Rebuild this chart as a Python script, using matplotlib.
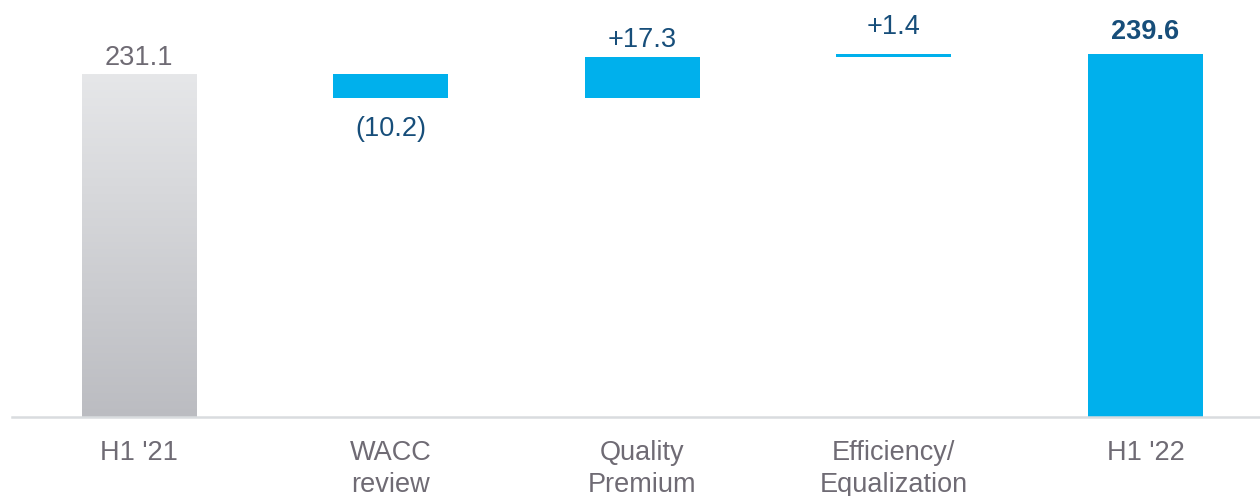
import numpy as np
import matplotlib
matplotlib.use("Agg")
import matplotlib.pyplot as plt
from matplotlib.colors import LinearSegmentedColormap

plt.rcParams['font.family'] = ['Liberation Sans', 'DejaVu Sans']

# Waterfall data
categories = ["H1 '21", "WACC\nreview", "Quality\nPremium", "Efficiency/\nEqualization", "H1 '22"]
start_value = 231.1
deltas = [-10.2, 17.3, 1.4]
end_value = 239.6
value_labels = ["231.1", "(10.2)", "+17.3", "+1.4", "239.6"]

BLUE = "#00b0ec"
DARK_BLUE = "#174e7a"
GREY_TEXT = "#6f6b74"
FS = 19.5

fig = plt.figure(figsize=(12.6, 4.96), dpi=100)
ax = fig.add_axes([0.0095, 0.160, 0.9905, 0.840])

x = np.arange(len(categories))
width = 0.457
y_floor = 85.3

# bar geometry: bottoms and heights
bottoms = [y_floor]
heights = [start_value - y_floor]
level = start_value
for d in deltas:
    lo = min(level, level + d)
    bottoms.append(lo)
    heights.append(abs(d))
    level += d
bottoms.append(y_floor)
heights.append(end_value - y_floor)

bars = ax.bar(x, heights, bottom=bottoms, width=width, color=BLUE, linewidth=0, zorder=2)

# grey gradient on the starting bar
first = bars[0]
first.set_facecolor("none")
cmap = LinearSegmentedColormap.from_list("greyfade", ["#bbbcc1", "#e6e7e9"])
grad = np.linspace(0, 1, 256).reshape(-1, 1)
x0 = first.get_x()
im = ax.imshow(grad, cmap=cmap, origin="lower", aspect="auto",
               extent=[x0, x0 + width, y_floor, start_value], zorder=1)
im.set_clip_path(first)

ax.set_xlim(-0.505, 4.455)
ax.set_ylim(y_floor, 262.6)

# value labels (offsets in points from the bar edges)
tops = [b + h for b, h in zip(bottoms, heights)]
label_specs = [
    (tops[0], 6.5, GREY_TEXT, "normal"),
    (bottoms[1], -27.5, DARK_BLUE, "normal"),
    (tops[2], 7.2, DARK_BLUE, "normal"),
    (tops[3], 14.4, DARK_BLUE, "normal"),
    (tops[4], 10.8, DARK_BLUE, "bold"),
]
for xi, text, (yv, off, col, wt) in zip(x, value_labels, label_specs):
    ax.annotate(text, (xi, yv), xytext=(0, off), textcoords="offset points",
                ha="center", va="baseline", fontsize=FS, color=col, fontweight=wt)

# category labels below the baseline
for xi, cat in zip(x, categories):
    ax.annotate(cat, (xi, y_floor), xytext=(0, -16.5), textcoords="offset points",
                ha="center", va="top", fontsize=FS, color=GREY_TEXT, linespacing=1.3,
                annotation_clip=False)

for s in ["top", "right", "left"]:
    ax.spines[s].set_visible(False)
ax.spines["bottom"].set_color("#d9dcdf")
ax.spines["bottom"].set_linewidth(1.8)
ax.set_xticks([])
ax.set_yticks([])

fig.savefig("out.png", dpi=100, facecolor="white")
